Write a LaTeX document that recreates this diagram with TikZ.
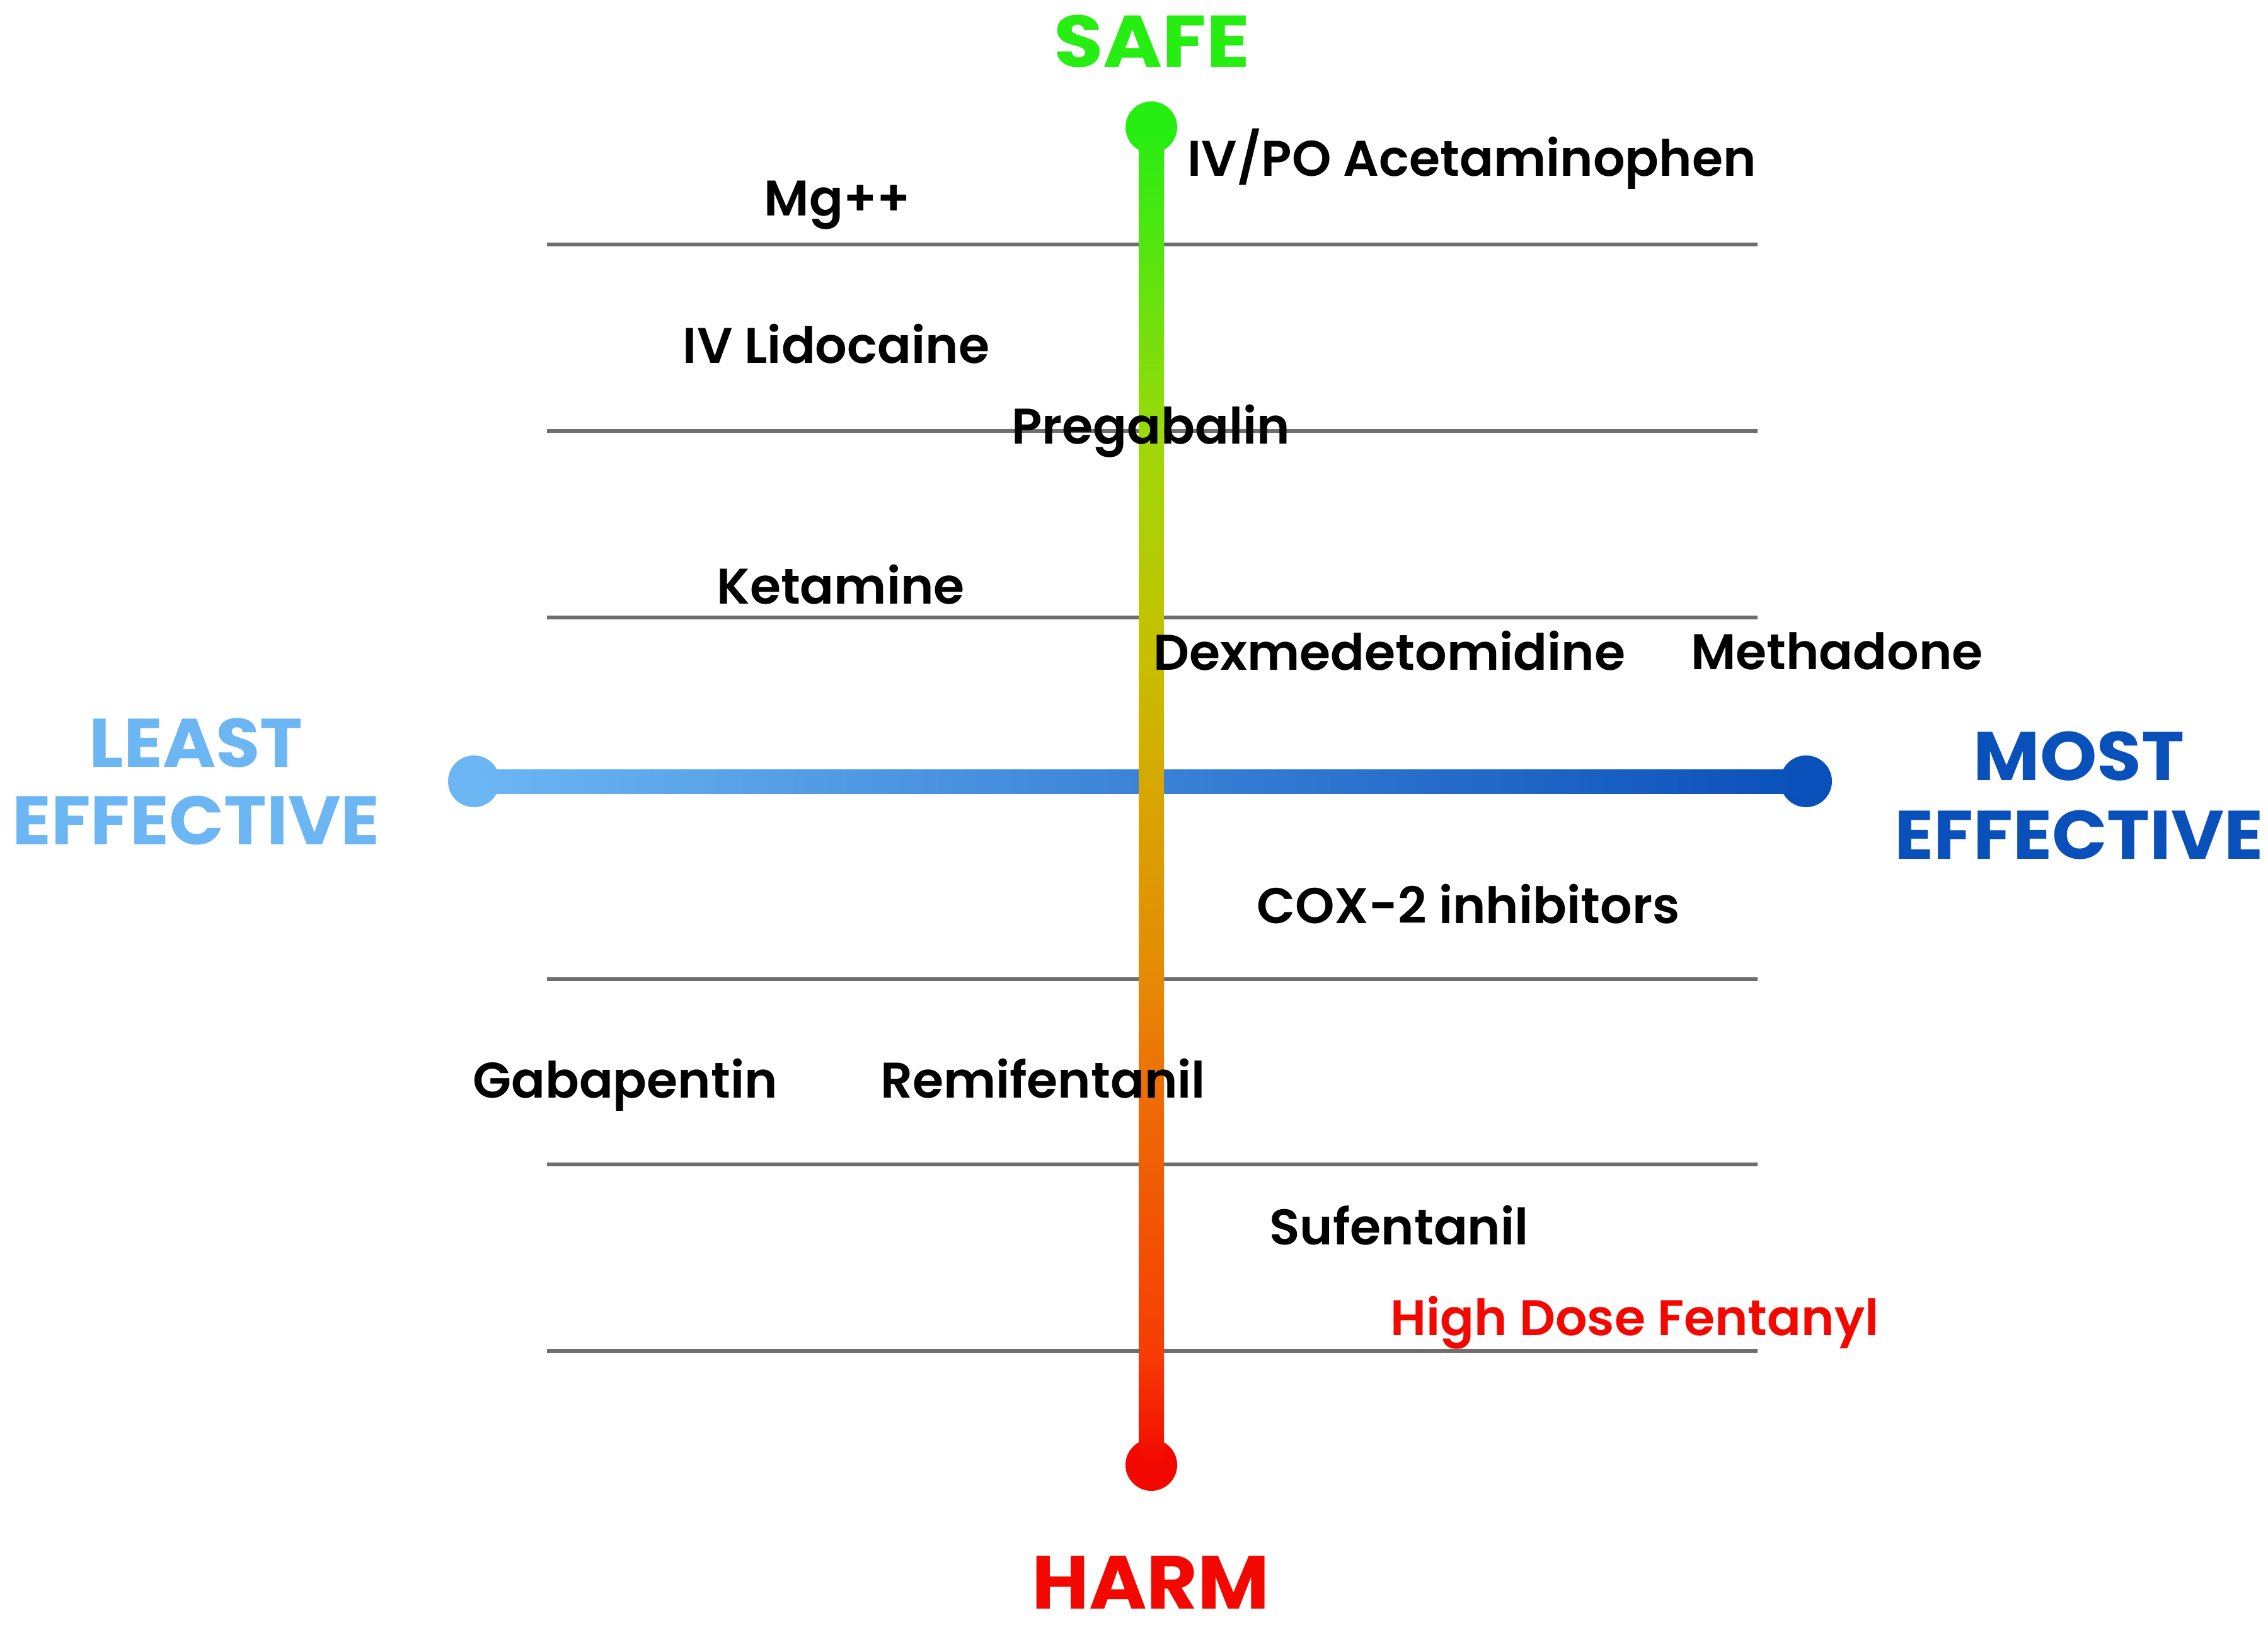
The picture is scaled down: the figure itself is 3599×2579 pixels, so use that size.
\documentclass[tikz,border=0pt]{standalone}
\usepackage{fontspec}
\setmainfont{Poppins}
\newfontfamily\lblfont{Poppins}[UprightFont={* SemiBold}]
\newfontfamily\headfont{Poppins}[UprightFont={* Bold}]
\definecolor{safegreen}{HTML}{26EE12}
\definecolor{harmred}{HTML}{F30800}
\definecolor{leastblue}{HTML}{6CB6F4}
\definecolor{mostblue}{HTML}{0A50BA}
\definecolor{gridgray}{HTML}{6E6E6E}
\definecolor{vA}{HTML}{9ED80A}
\definecolor{vB}{HTML}{C6C000}
\definecolor{vC}{HTML}{D6A800}
\definecolor{vD}{HTML}{E68A05}
\definecolor{vE}{HTML}{EE6A05}
\definecolor{vF}{HTML}{F63C04}
\pgfdeclareverticalshading{vgrad}{100bp}{color(0bp)=(harmred); color(25bp)=(harmred);
  color(29.1bp)=(vF); color(38.4bp)=(vE); color(43.25bp)=(vD); color(50.5bp)=(vC);
  color(55.3bp)=(vB); color(63.3bp)=(vA); color(75bp)=(safegreen); color(100bp)=(safegreen)}
\begin{document}
\begin{tikzpicture}[x=0.01cm,y=-0.01cm,
  lbl/.style={font=\lblfont\fontsize{22.6}{27}\selectfont, text=black, inner sep=0pt, anchor=base},
  head/.style={font=\headfont\fontsize{31}{36}\selectfont, inner sep=0pt, anchor=base},
  tick/.style={draw=gridgray, line width=1.5pt},
  enddot/.style={circle, minimum size=0.82cm, inner sep=0pt}]
\useasboundingbox (0,0) rectangle (3599,2579);
\fill[white] (0,0) rectangle (3599,2579);
% grid lines
\foreach \yy/\nm in {388/g1,684/g2,980/g3,1554/g4,1848/g5,2144/g6}{
  \coordinate (\nm L) at (868,\yy);
  \coordinate (\nm R) at (2789,\yy);
  \draw[tick] (\nm L) -- (\nm R);
}
% horizontal axis
\node[enddot, fill=leastblue] (leastdot) at (752,1240) {};
\node[enddot, fill=mostblue] (mostdot) at (2866,1240) {};
\shade[left color=leastblue, right color=mostblue] (752,1221) rectangle (2866,1259);
% vertical axis
\node[enddot, fill=safegreen] (safedot) at (1827,202) {};
\node[enddot, fill=harmred] (harmdot) at (1827,2325) {};
\shade[shading=vgrad] (1807,202) rectangle (1847,2325);
% headings
\node[head, text=safegreen, font=\headfont\fontsize{33}{40}\selectfont, xscale=1.1] (safe) at (1828,107) {SAFE};
\node[head, text=harmred, font=\headfont\fontsize{34}{40}\selectfont, xscale=1.04] (harm) at (1826,2553) {HARM};
\node[head, text=leastblue, xscale=1.05] (least1) at (311,1217) {LEAST};
\node[head, text=leastblue, xscale=1.05] (least2) at (311,1340) {EFFECTIVE};
\node[head, text=mostblue, xscale=1.055] (most1) at (3299,1238) {MOST};
\node[head, text=mostblue, xscale=1.055] (most2) at (3299,1363) {EFFECTIVE};
% drug labels
\node[lbl, anchor=base west] (acet) at (1884,280) {IV/PO Acetaminophen};
\node[lbl] (mg) at (1329,343) {Mg++};
\node[lbl] (lido) at (1327,577) {IV Lidocaine};
\node[lbl] (preg) at (1826,705) {Pregabalin};
\node[lbl] (ket) at (1334,958) {Ketamine};
\node[lbl] (dex) at (2205,1063) {Dexmedetomidine};
\node[lbl] (meth) at (2915,1062) {Methadone};
\node[lbl] (cox) at (2330,1465) {COX-2 inhibitors};
\node[lbl] (gaba) at (992,1742) {Gabapentin};
\node[lbl] (remi) at (1655,1742) {Remifentanil};
\node[lbl] (sufe) at (2220,1975) {Sufentanil};
\node[lbl, text=harmred] (fent) at (2594,2119) {High Dose Fentanyl};
\end{tikzpicture}
\end{document}
